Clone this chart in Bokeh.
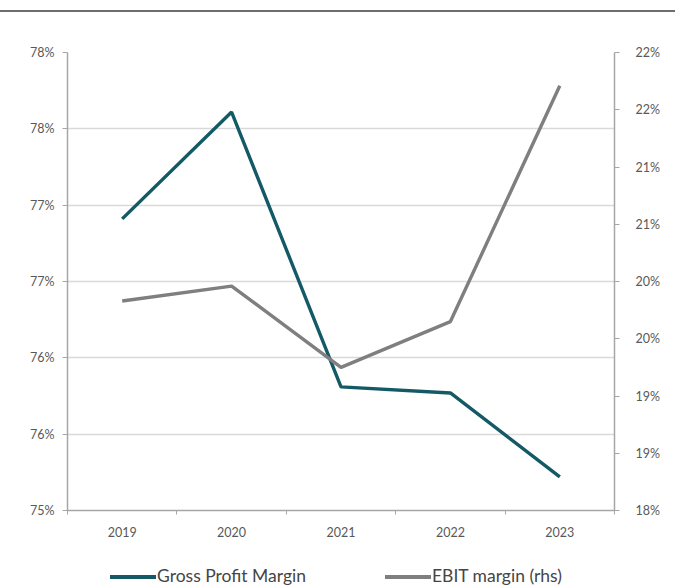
from bokeh.plotting import figure
from bokeh.models import Range1d, LinearAxis, FixedTicker, Div
from bokeh.layouts import column
from bokeh.embed import file_html
from bokeh.resources import INLINE

years = ["2019", "2020", "2021", "2022", "2023"]
gross_profit_margin = [76.91, 77.61, 75.81, 75.77, 75.22]
ebit_margin = [19.83, 19.96, 19.25, 19.65, 21.71]

left_ticks = [75.0, 75.5, 76.0, 76.5, 77.0, 77.5, 78.0]
left_tick_labels = ["75%", "76%", "76%", "77%", "77%", "78%", "78%"]
right_ticks = [18.0, 18.5, 19.0, 19.5, 20.0, 20.5, 21.0, 21.5, 22.0]
right_tick_labels = ["18%", "19%", "19%", "20%", "20%", "21%", "21%", "22%", "22%"]
series_names = ["Gross Profit Margin", "EBIT margin (rhs)"]

FONT = "Lato"
TEAL = "#135a66"
GREY = "#7f7f7f"
AXIS = "#a6a6a6"
LABEL = "#595959"

xs = list(range(len(years)))

p = figure(width=675, height=548, output_backend="svg", toolbar_location=None,
           x_range=Range1d(-0.5, len(years) - 0.5),
           y_range=Range1d(left_ticks[0], left_ticks[-1]),
           min_border_left=67, min_border_right=61, min_border_top=40,
           min_border_bottom=50, margin=0)
p.outline_line_color = None
p.background_fill_color = "white"
p.border_fill_color = "white"

p.extra_y_ranges = {"rhs": Range1d(right_ticks[0], right_ticks[-1])}

# grid
p.xgrid.grid_line_color = None
p.ygrid.ticker = FixedTicker(ticks=left_ticks)
p.ygrid.grid_line_color = "#d9d9d9"
p.ygrid.grid_line_width = 1.5

# x axis
xa = p.xaxis[0]
xa.ticker = FixedTicker(ticks=xs, minor_ticks=[i - 0.5 for i in range(len(years) + 1)])
xa.major_label_overrides = {i: y for i, y in enumerate(years)}
xa.major_tick_line_color = None
xa.minor_tick_line_color = AXIS
xa.minor_tick_out = 4
xa.minor_tick_in = 0
xa.axis_line_color = AXIS
xa.axis_line_width = 1.5
xa.major_label_text_font = FONT
xa.major_label_text_font_size = "12.5px"
xa.major_label_text_color = LABEL
xa.major_label_standoff = 10

# left axis
ya = p.yaxis[0]
ya.ticker = FixedTicker(ticks=left_ticks)
ya.major_label_overrides = {t: l for t, l in zip(left_ticks, left_tick_labels)}
ya.minor_tick_line_color = None
ya.major_tick_out = 5
ya.major_tick_in = 0
ya.major_tick_line_color = AXIS
ya.axis_line_color = AXIS
ya.axis_line_width = 1.5
ya.major_label_text_font = FONT
ya.major_label_text_font_size = "12.5px"
ya.major_label_text_color = LABEL
ya.major_label_standoff = 8

# right axis
ra = LinearAxis(y_range_name="rhs", ticker=FixedTicker(ticks=right_ticks))
ra.major_label_overrides = {t: l for t, l in zip(right_ticks, right_tick_labels)}
ra.minor_tick_line_color = None
ra.major_tick_out = 5
ra.major_tick_in = 0
ra.major_tick_line_color = AXIS
ra.axis_line_color = AXIS
ra.axis_line_width = 1.5
ra.major_label_text_font = FONT
ra.major_label_text_font_size = "12.5px"
ra.major_label_text_color = LABEL
ra.major_label_standoff = 16
p.add_layout(ra, "right")

p.line(xs, gross_profit_margin, line_color=TEAL, line_width=3.4)
p.line(xs, ebit_margin, line_color=GREY, line_width=3.4, y_range_name="rhs")

top = Div(text="", width=675, height=12, margin=0,
          styles={"border-bottom": "2px solid #6e6e6e", "box-sizing": "border-box"})

legend_html = (
    '<div style="position:relative;width:675px;height:28px;'
    'font-family:Lato,sans-serif;font-size:17.5px;color:#454545;">'
    '<div style="position:absolute;left:110px;top:15px;width:46px;height:3.5px;'
    'background:%s;"></div>'
    '<div style="position:absolute;left:157px;top:6px;line-height:20px;'
    'white-space:nowrap;">%s</div>'
    '<div style="position:absolute;left:385px;top:15px;width:46px;height:3.5px;'
    'background:%s;"></div>'
    '<div style="position:absolute;left:432px;top:6px;line-height:20px;'
    'white-space:nowrap;">%s</div>'
    '</div>'
) % (TEAL, series_names[0], GREY, series_names[1])
legend_div = Div(text=legend_html, width=675, height=28, margin=0)

layout = column(top, p, legend_div, spacing=0)

open("out.html", "w").write(file_html(layout, INLINE))
